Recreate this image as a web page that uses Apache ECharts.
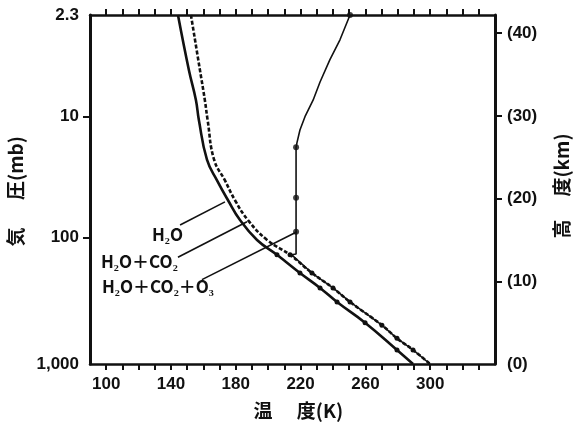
<!DOCTYPE html>
<html>
<head>
<meta charset="utf-8">
<script src="https://cdn.jsdelivr.net/npm/echarts@6/dist/echarts.min.js"></script>
<style>
html,body{margin:0;padding:0;background:#fff;}
#c{width:574px;height:425px;}
</style>
</head>
<body>
<div id="c"></div>
<script>
// Temperature axis ticks and labels (K)
const tempTicks = [100,110,120,130,140,150,160,170,180,190,200,210,220,230,240,250,260,270,280,290,300,310,320,330];
const tempLabels = [100,140,180,220,260,300];
// Height axis (km) ticks/labels
const heightLabels = [0,10,20,30,40];
const heightTicks = [10,20,30,40];
// Pressure labels placed at their heights (km)
const pressureLabels = ['1,000','100','10','2.3'];
const pressureHeights = [0,15.3,29.9,42.2];
const pressureTicks = [15.3,29.9];

// H2O only
const h2oTemp   = [144.3,151.1,155.4,157.2,162.2,168.4,175.2,182.6,193.1,205.4,219.6,232.0,242.5,259.8,279.5,289.4];
const h2oHeight = [42.2,35.5,31.9,29.5,24.7,22.2,19.8,17.4,15.0,13.2,11.0,9.2,7.5,5.0,1.7,0];
// H2O + CO2
const co2Temp   = [152.3,157.9,160.9,162.6,166.6,173.3,179.5,187.5,199.3,213.5,227.0,240.0,250.5,270.2,279.5,289.4,299.9];
const co2Height = [42.2,35.5,31.9,29.5,24.7,22.2,19.8,17.4,15.0,13.2,11.0,9.2,7.5,4.7,3.1,1.7,0];
// H2O + CO2 + O3
const o3Temp   = [250.5,244.3,238.1,232.0,227.7,222.7,219.6,217.8,217.2,217.2,217.2,217.2,214.5,227.0,240.0,250.5,270.2,279.5,289.4,299.9];
const o3Height = [42.2,39.2,36.8,34.1,31.9,29.9,28.3,26.8,26.2,20.1,16.0,13.3,13.2,11.0,9.2,7.5,4.7,3.1,1.7,0];
const o3MarkTemp   = [250.5,217.2,217.2,217.2];
const o3MarkHeight = [42.2,26.2,20.1,16.0];

// Leader lines (label end -> curve end), in K / km
const seriesNames = ['H₂O','H₂O＋CO₂','H₂O＋CO₂＋O₃'];
const leaderFromTemp = [145.6,144.3,159.1];
const leaderFromHeight = [16.8,12.9,10.2];
const leaderToTemp = [173.3,186.9,217.8];
const leaderToHeight = [19.6,17.2,16.0];

const zip = (a,b) => a.map((v,i)=>[v,b[i]]);
const numFont = 'Liberation Sans';
const cjkFont = 'Noto Sans CJK JP';
const ink = '#111';
const troDot = (v) => (v[1] > 0 && v[1] <= 13.3 ? 5 : 0);

const chart = echarts.init(document.getElementById('c'), null, {renderer:'canvas'});

const leaderSeries = seriesNames.map((n,i)=>({
  type:'line', silent:true, symbol:'none', z:3,
  lineStyle:{color:ink, width:1.6},
  data: [[leaderFromTemp[i],leaderFromHeight[i]],[leaderToTemp[i],leaderToHeight[i]]]
}));

chart.setOption({
  animation:false,
  backgroundColor:'#fff',
  grid:{left:90, right:79, top:15, bottom:61, containLabel:false},
  xAxis:[{
    type:'value', position:'bottom', min:90, max:340, interval:10,
    axisLine:{show:true, onZero:false, lineStyle:{color:ink, width:2.5}},
    axisTick:{show:true, customValues:tempTicks, length:6, lineStyle:{color:ink, width:2}},
    axisLabel:{customValues:tempLabels, margin:12, color:ink, fontSize:17, fontWeight:'bold', fontFamily:numFont},
    splitLine:{show:false}
  },{
    type:'value', position:'top', min:90, max:340, interval:10,
    axisLine:{show:true, onZero:false, lineStyle:{color:ink, width:2.5}},
    axisTick:{show:true, customValues:tempTicks, length:6, lineStyle:{color:ink, width:2}},
    axisLabel:{show:false},
    splitLine:{show:false}
  }],
  yAxis:[{
    type:'value', position:'left', min:0, max:42.2,
    axisLine:{show:true, onZero:false, lineStyle:{color:ink, width:3}},
    axisTick:{show:true, customValues:pressureTicks, length:7, lineStyle:{color:ink, width:2}},
    axisLabel:{customValues:pressureHeights, showMinLabel:true, showMaxLabel:true, margin:11, color:ink, fontSize:17, fontWeight:'bold', fontFamily:numFont,
      formatter:(v)=>{const i=pressureHeights.indexOf(v); return i>=0?pressureLabels[i]:'';}},
    splitLine:{show:false}
  },{
    type:'value', position:'right', min:0, max:42.2,
    axisLine:{show:true, onZero:false, lineStyle:{color:ink, width:3}},
    axisTick:{show:true, customValues:heightTicks, length:7, lineStyle:{color:ink, width:2}},
    axisLabel:{customValues:heightLabels, showMinLabel:true, margin:12, color:ink, fontSize:17, fontWeight:'bold', fontFamily:numFont,
      formatter:(v)=>'('+v+')'},
    splitLine:{show:false}
  }],
  series:[
    {type:'line', name:seriesNames[0], smooth:0.45, data:zip(h2oTemp,h2oHeight),
     symbol:'circle', showSymbol:true, showAllSymbol:true, symbolSize:troDot,
     itemStyle:{color:ink}, lineStyle:{color:ink, width:2.6}, z:4},
    {type:'line', name:seriesNames[1], smooth:0.45, data:zip(co2Temp,co2Height),
     symbol:'circle', showSymbol:true, showAllSymbol:true, symbolSize:troDot,
     itemStyle:{color:ink}, lineStyle:{color:ink, width:2.6, type:[4,2]}, z:4},
    {type:'line', name:seriesNames[2], smooth:false, data:zip(o3Temp,o3Height),
     symbol:'none', lineStyle:{color:ink, width:1.6}, z:4},
    {type:'scatter', data:zip(o3MarkTemp,o3MarkHeight), symbol:'circle', symbolSize:6,
     itemStyle:{color:ink}, z:5},
    ...leaderSeries
  ],
  graphic:[
    {type:'text', left:152, top:226, style:{text:seriesNames[0], fill:ink, font:'bold 17px "'+cjkFont+'"'}},
    {type:'text', left:101, top:253, style:{text:seriesNames[1], fill:ink, font:'bold 17px "'+cjkFont+'"'}},
    {type:'text', left:102, top:278, style:{text:seriesNames[2], fill:ink, font:'bold 17px "'+cjkFont+'"'}},
    {type:'text', x:263, y:411, style:{text:'温', fill:ink, font:'bold 19px "'+cjkFont+'"', align:'center', verticalAlign:'middle'}},
    {type:'text', x:320, y:411, style:{text:'度(K)', fill:ink, font:'bold 19px "'+cjkFont+'"', align:'center', verticalAlign:'middle'}},
    {type:'text', x:16, y:237, rotation:Math.PI/2, style:{text:'気', fill:ink, font:'bold 19px "'+cjkFont+'"', align:'center', verticalAlign:'middle'}},
    {type:'text', x:16, y:168, rotation:Math.PI/2, style:{text:'圧(mb)', fill:ink, font:'bold 19px "'+cjkFont+'"', align:'center', verticalAlign:'middle'}},
    {type:'text', x:562, y:229, rotation:Math.PI/2, style:{text:'高', fill:ink, font:'bold 19px "'+cjkFont+'"', align:'center', verticalAlign:'middle'}},
    {type:'text', x:562, y:165, rotation:Math.PI/2, style:{text:'度(km)', fill:ink, font:'bold 19px "'+cjkFont+'"', align:'center', verticalAlign:'middle'}}
  ]
});
</script>
</body>
</html>
